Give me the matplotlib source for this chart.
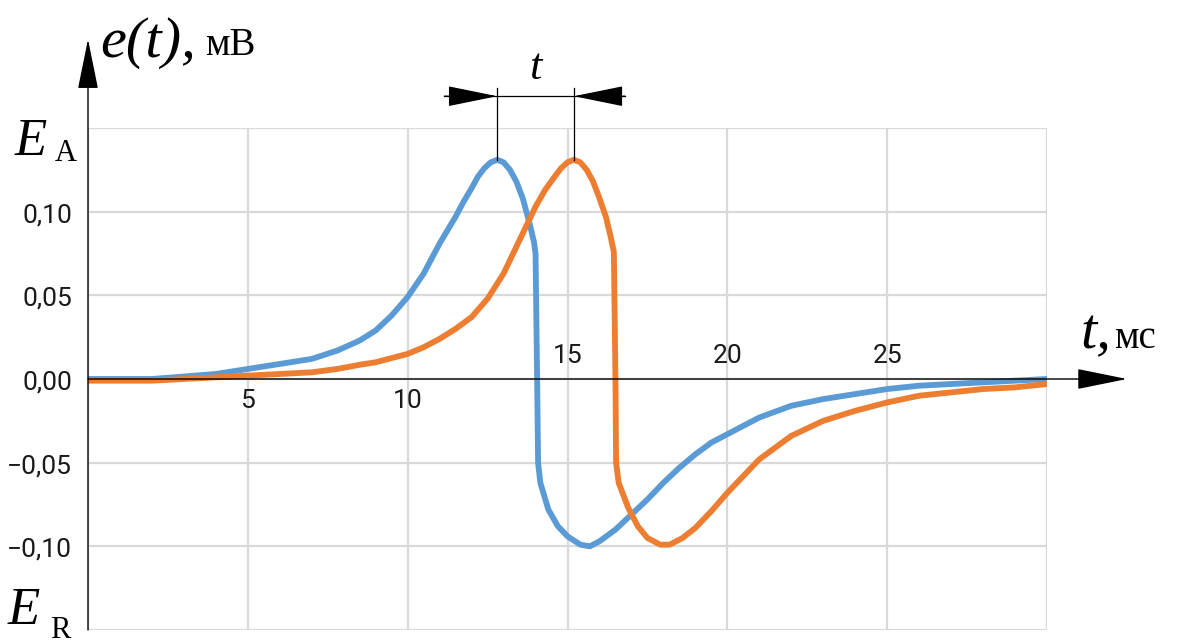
import numpy as np
import matplotlib.pyplot as plt

# time axis labels (ms) and y tick values (mV)
x_ticks = [5, 10, 15, 20, 25]
x_labels_below = [5, 10]
y_ticks = [-0.10, -0.05, 0.00, 0.05, 0.10]

# first signal (blue)
t_blue = [0, 2, 4, 5, 6, 7, 7.8, 8.5, 9, 9.5, 10, 10.5, 11, 11.5, 11.75, 12,
          12.2, 12.4, 12.6, 12.8, 13.0, 13.2, 13.4, 13.6, 13.8, 13.95, 14.0,
          14.05, 14.08, 14.15, 14.4, 14.7, 15.0, 15.4, 15.7, 16.0, 16.5, 17.0,
          17.5, 18.0, 18.5, 19.0, 19.5, 20, 21, 22, 23, 24, 25, 26, 27, 28,
          29, 30]
e_blue = [0.000, 0.000, 0.003, 0.006, 0.009, 0.012, 0.017, 0.023, 0.029, 0.038,
          0.049, 0.063, 0.081, 0.097, 0.106, 0.114, 0.121, 0.126, 0.1295,
          0.131, 0.1295, 0.125, 0.118, 0.108, 0.094, 0.082, 0.075, 0.000,
          -0.050, -0.062, -0.078, -0.088, -0.094, -0.099, -0.100, -0.097,
          -0.090, -0.081, -0.072, -0.062, -0.053, -0.045, -0.038, -0.033,
          -0.023, -0.016, -0.012, -0.009, -0.006, -0.004, -0.003, -0.002,
          -0.001, 0.000]

# second signal (orange), delayed
t_orange = [0, 2, 4, 5, 6, 7, 7.8, 8.5, 9, 9.5, 10, 10.5, 11, 11.5, 12, 12.5,
            13, 13.5, 14, 14.3, 14.6, 14.8, 15.0, 15.2, 15.4, 15.6, 15.8, 16.0,
            16.2, 16.35, 16.45, 16.5, 16.52, 16.6, 16.9, 17.2, 17.5, 17.9, 18.2,
            18.6, 19.0, 19.5, 20, 20.5, 21, 21.5, 22, 23, 24, 25, 26, 27, 28,
            29, 30]
e_orange = [-0.001, -0.001, 0.001, 0.002, 0.003, 0.004, 0.006, 0.0085, 0.010,
            0.0125, 0.015, 0.019, 0.024, 0.030, 0.037, 0.048, 0.063, 0.083,
            0.103, 0.113, 0.121, 0.126, 0.1295, 0.131, 0.1295, 0.125, 0.118,
            0.108, 0.097, 0.085, 0.076, 0.000, -0.050, -0.062, -0.077, -0.088,
            -0.095, -0.099, -0.099, -0.095, -0.089, -0.079, -0.068, -0.058,
            -0.048, -0.041, -0.034, -0.025, -0.019, -0.014, -0.010, -0.008,
            -0.006, -0.005, -0.003]

blue = '#5b9bd5'
orange = '#ed7d31'
tick_font = ['Roboto', 'DejaVu Sans']
serif = ['Liberation Serif', 'DejaVu Serif']

fig = plt.figure(figsize=(11.77, 6.43), dpi=100)
ax = fig.add_axes([88 / 1177, 13 / 643, 959 / 1177, 502 / 643])
ax.set_xlim(0, 30)
ax.set_ylim(-0.15, 0.15)

ax.plot(t_blue, e_blue, color=blue, lw=4.2, zorder=3, solid_joinstyle='round')
ax.plot(t_orange, e_orange, color=orange, lw=4.2, zorder=3, solid_joinstyle='round')

# grid
ax.set_xticks([0, 5, 10, 15, 20, 25, 30])
ax.set_yticks([-0.15, -0.10, -0.05, 0, 0.05, 0.10, 0.15])
ax.grid(True, color='#d9d9d9', lw=1.6, zorder=0)
ax.tick_params(length=0, labelbottom=False, labelleft=False)
for s in ax.spines.values():
    s.set_visible(False)

# y tick labels with decimal comma
for v in y_ticks:
    lab = ('%.2f' % v).replace('.', ',').replace('-', '\u2212')
    if lab == '\u22120,00':
        lab = '0,00'
    ax.text(-0.5, v - 0.002, lab, ha='right', va='center', fontsize=19,
            family=tick_font, color='#1a1a1a', clip_on=False)

# x tick labels along the time axis
for v in x_ticks:
    if v in x_labels_below:
        ax.text(v, -0.013, str(v), ha='center', va='center', fontsize=19,
                family=tick_font, color='#1a1a1a')
    else:
        ax.text(v, 0.014, str(v), ha='center', va='center', fontsize=19,
                family=tick_font, color='#1a1a1a')

# axes with arrows
head = '-|>,head_length=3.2,head_width=0.65'
ax.annotate('', xy=(32.5, 0), xytext=(0, 0), annotation_clip=False, zorder=6,
            arrowprops=dict(arrowstyle=head, color='black', lw=1,
                            shrinkA=0, shrinkB=0))
ax.annotate('', xy=(0, 0.203), xytext=(0, -0.15), annotation_clip=False, zorder=6,
            arrowprops=dict(arrowstyle=head, color='black', lw=1,
                            shrinkA=0, shrinkB=0))

# time shift between peaks
peak_b = t_blue[int(np.argmax(e_blue))]
peak_o = t_orange[int(np.argmax(e_orange))]
y_dim = 0.169
for p, e in [(peak_b, max(e_blue)), (peak_o, max(e_orange))]:
    ax.plot([p, p], [e, y_dim + 0.005], color='black', lw=0.9, zorder=5, clip_on=False)
ax.plot([peak_b - 1.65, peak_o + 1.6], [y_dim, y_dim], color='black', lw=0.9,
        zorder=5, clip_on=False)
ax.annotate('', xy=(peak_b, y_dim), xytext=(peak_b - 1.65, y_dim),
            annotation_clip=False,
            arrowprops=dict(arrowstyle=head, color='black', lw=0.9,
                            shrinkA=0, shrinkB=0))
ax.annotate('', xy=(peak_o, y_dim), xytext=(peak_o + 1.6, y_dim),
            annotation_clip=False,
            arrowprops=dict(arrowstyle=head, color='black', lw=0.9,
                            shrinkA=0, shrinkB=0))
ax.text((peak_b + peak_o) / 2, 0.179, 't', ha='center', va='baseline',
        fontsize=32, style='italic', family=serif)

# axis names
fig.text(100 / 1177, 1 - 57 / 643, 'e(t),', fontsize=42, style='italic', family=serif)
fig.text(205 / 1177, 1 - 55 / 643, 'мВ', fontsize=28, family=serif)
fig.text(1080 / 1177, 1 - 348 / 643, 't,', fontsize=42, style='italic', family=serif)
fig.text(1114 / 1177, 1 - 348 / 643, 'мс', fontsize=28, family=serif)

fig.text(15 / 1177, 1 - 155 / 643, 'E', fontsize=38, style='italic', family=serif)
fig.text(55 / 1177, 1 - 161 / 643, 'A', fontsize=22, family=serif)
fig.text(8 / 1177, 1 - 624 / 643, 'E', fontsize=38, style='italic', family=serif)
fig.text(50 / 1177, 1 - 638 / 643, 'R', fontsize=22, family=serif)

fig.savefig('out.png', dpi=100)
